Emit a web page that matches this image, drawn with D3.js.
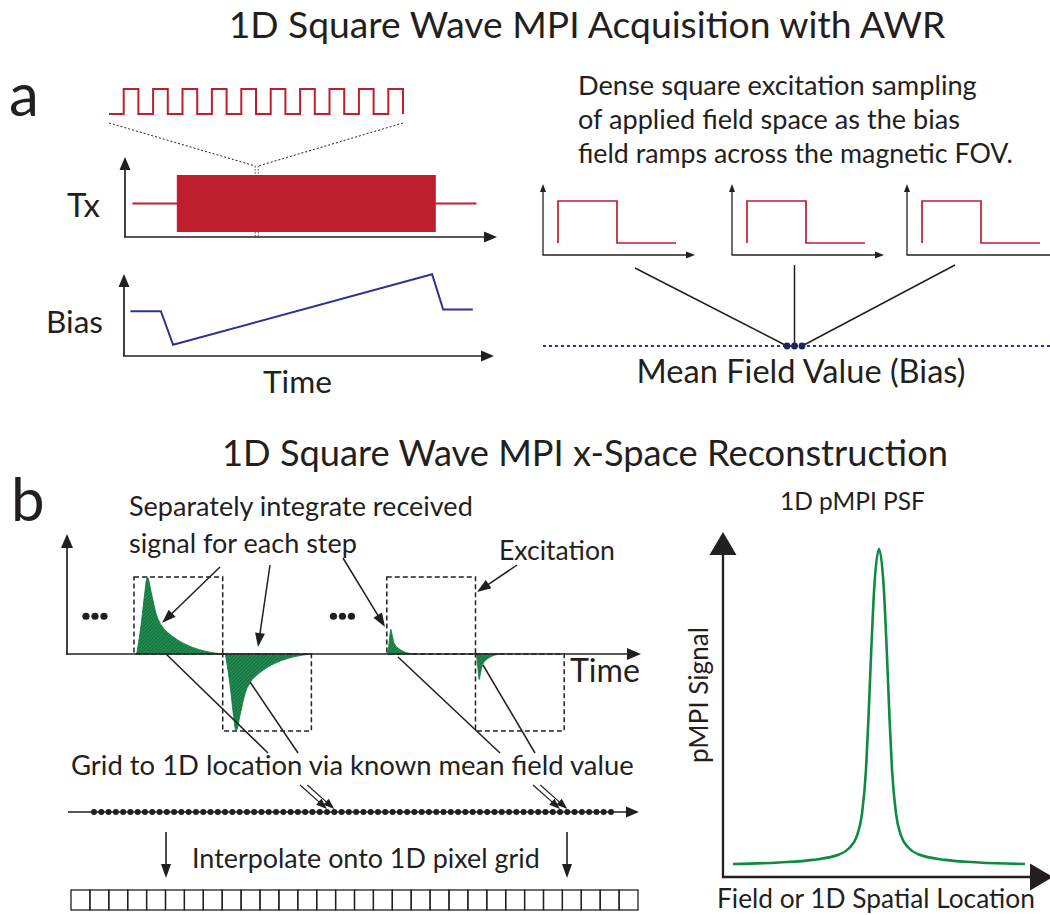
<!DOCTYPE html>
<html>
<head>
<meta charset="utf-8">
<script src="https://cdn.jsdelivr.net/npm/d3@7"></script>
<style>
  body { margin: 0; background: #fff; }
  text { font-family: Lato, "Open Sans", sans-serif; fill: #231f20; }
</style>
</head>
<body>
<div id="chart"></div>
<script>
// ---- data ----
var titles = ["1D Square Wave MPI Acquisition with AWR", "1D Square Wave MPI x-Space Reconstruction"];
var noteLines = ["Dense square excitation sampling", "of applied field space as the bias", "field ramps across the magnetic FOV."];
var stepNote = ["Separately integrate received", "signal for each step"];

// zoomed excitation, one level per half period
var exciteLevels = [0,1,0,1,0,1,0,1,0,1,0,1,0,1,0,1,0,1,0,1,0];
// Tx panel (time 0-100)
var txOn = [2, 95];
var txBurst = [14, 84];
var txDetail = 35.6;
// bias waveform
var biasTime  = [1.5, 9.7, 13, 83, 86, 94];
var biasLevel = [52, 52, 13, 95, 54, 54];

// one square step shown in each small panel
var stepShapeT = [0, 0, 1, 1, 2];
var stepShapeV = [0, 1, 1, 0, 0];
var meanField = [-1, 0, 1];

// received signal per excitation step
var stepStart = [0, 1, 2.85, 3.85];
var stepSign  = [1, -1, 1, -1];
var stepAmp   = [1, 1, 0.32, 0.33];
var stepSpan  = [1, 1, 0.3, 0.28];
var decayT = [0.03, 0.086, 0.12, 0.15, 0.198, 0.25, 0.31, 0.40, 0.51, 0.66, 0.81, 1.0];
var decayV = [0, 0.43, 0.78, 1.0, 0.78, 0.52, 0.37, 0.26, 0.17, 0.086, 0.034, 0];
var gapMarks = [-0.44, 2.35];

// gridding
var gridCount = 72;
var gridHits = [32, 33, 64, 65];
var pixelCount = 30;

// PSF
var psfOffset = [-146,-100,-66,-40,-30,-22,-17,-13,-10.7,-8,-4.7,0,4.7,8,10.7,13,17,22,30,40,66,100,146];
var psfValue  = [0,0.005,0.013,0.03,0.05,0.09,0.16,0.3,0.45,0.66,0.88,1,0.88,0.66,0.45,0.3,0.16,0.09,0.05,0.03,0.013,0.005,0];

var ink = "#231f20", red = "#be1e2d", navy = "#2e3192", green = "#0f8a42";

var svg = d3.select("#chart").append("svg")
    .attr("width", 1050)
    .attr("height", 915);

var defs = svg.append("defs");
var pat = defs.append("pattern")
    .attr("id", "hatch")
    .attr("patternUnits", "userSpaceOnUse")
    .attr("width", 2.5).attr("height", 2.5)
    .attr("patternTransform", "rotate(45)");
pat.append("rect").attr("width", 2.5).attr("height", 2.5).attr("fill", "#117a40");
pat.append("line").attr("x1", 0.4).attr("y1", 0).attr("x2", 0.4).attr("y2", 2.5)
    .attr("stroke", "#4f9e6f").attr("stroke-width", 0.5);

function label(g, str, x, y, w, anchor, rot) {
  var t = g.append("text").attr("x", x).attr("y", y).attr("font-size", 30).text(str);
  if (anchor) t.attr("text-anchor", anchor);
  if (rot) t.attr("transform", "rotate(-90," + x + "," + y + ")");
  if (w) {
    var len = t.node().getComputedTextLength();
    t.attr("font-size", 30 * w / len);
  }
  return t;
}

function arrow(g, x1, y1, x2, y2, len, wid, sw) {
  var dx = x2 - x1, dy = y2 - y1, d = Math.sqrt(dx * dx + dy * dy),
      ux = dx / d, uy = dy / d,
      bx = x2 - ux * len, by = y2 - uy * len;
  g.append("line")
    .attr("x1", x1).attr("y1", y1)
    .attr("x2", x2 - ux * len * 0.6).attr("y2", y2 - uy * len * 0.6)
    .attr("stroke", ink).attr("stroke-width", sw || 1.5);
  g.append("path")
    .attr("d", "M" + x2 + "," + y2 +
               "L" + (bx - uy * wid / 2) + "," + (by + ux * wid / 2) +
               "L" + (bx + uy * wid / 2) + "," + (by - ux * wid / 2) + "Z")
    .attr("fill", ink);
}

function seg(g, x1, y1, x2, y2, sw, dash) {
  var l = g.append("line").attr("x1", x1).attr("y1", y1).attr("x2", x2).attr("y2", y2)
    .attr("stroke", ink).attr("stroke-width", sw || 1.3);
  if (dash) l.attr("stroke-dasharray", dash);
  return l;
}

// ================= panel a =================
var a = svg.append("g");
label(a, titles[0], 587, 38, 717, "middle");
a.append("text").attr("x", 9).attr("y", 116).attr("font-size", 60).text("a");

// zoomed square wave
var exX = d3.scaleLinear().domain([0, 20]).range([109, 403]);
var exY = d3.scaleLinear().domain([0, 1]).range([114, 89]);
a.append("path")
  .datum(exciteLevels)
  .attr("d", d3.line().curve(d3.curveStepAfter)
      .x(function(d, i) { return exX(i); })
      .y(function(d) { return exY(d); }))
  .attr("fill", "none").attr("stroke", red).attr("stroke-width", 2);

// Tx panel
var tX = d3.scaleLinear().domain([0, 100]).range([125, 495]);
var txY = d3.scaleLinear().domain([-1, 1]).range([232, 175]);
seg(a, exX(0), 123, tX(txDetail) - 1.5, 166, 1, "2,2");
seg(a, exX(20), 123, tX(txDetail) + 1.5, 166, 1, "2,2");
[-1.5, 1.5].forEach(function(o) {
  seg(a, tX(txDetail) + o, 166, tX(txDetail) + o, 175, 0.8, "1.5,1.5");
  seg(a, tX(txDetail) + o, 232, tX(txDetail) + o, 237, 0.8, "1.5,1.5");
});
a.append("line")
  .attr("x1", tX(txOn[0])).attr("x2", tX(txOn[1]))
  .attr("y1", txY(0)).attr("y2", txY(0))
  .attr("stroke", red).attr("stroke-width", 1.9);
a.append("rect")
  .attr("x", tX(txBurst[0])).attr("width", tX(txBurst[1]) - tX(txBurst[0]))
  .attr("y", txY(1)).attr("height", txY(-1) - txY(1))
  .attr("fill", red);
arrow(a, 125, 237, 125, 157, 13, 11, 1.7);
arrow(a, 124, 237, 497, 237, 13, 11, 1.7);
label(a, "Tx", 67, 217, 33);

// bias panel
var bY = d3.scaleLinear().domain([0, 100]).range([356, 270]);
a.append("path")
  .datum(d3.zip(biasTime, biasLevel))
  .attr("d", d3.line()
      .x(function(d) { return tX(d[0]); })
      .y(function(d) { return bY(d[1]); }))
  .attr("fill", "none").attr("stroke", navy).attr("stroke-width", 2);
arrow(a, 124, 356, 124, 274, 13, 11, 1.7);
arrow(a, 123, 356, 494, 356, 13, 11, 1.7);
label(a, "Bias", 46, 333, 57);
label(a, "Time", 263, 393, 69);

// right: dense sampling note
noteLines.forEach(function(s, i) {
  label(a, s, 578, 95 + i * 34, [399, 382, 435][i]);
});

// small excitation panels
var mfX = d3.scaleLinear().domain([-1, 1]).range([787, 802]);
var panelX = [543, 732, 907];
panelX.forEach(function(x0, i) {
  var px = d3.scaleLinear().domain([0, 2]).range([x0 + 15, x0 + 133]);
  var py = d3.scaleLinear().domain([0, 1]).range([243, 201]);
  a.append("path")
    .datum(d3.zip(stepShapeT, stepShapeV))
    .attr("d", d3.line().x(function(d) { return px(d[0]); }).y(function(d) { return py(d[1]); }))
    .attr("fill", "none").attr("stroke", red).attr("stroke-width", 1.7);
  arrow(a, x0, 255, x0, 184, 8, 6, 1.3);
  if (i < 2) arrow(a, x0 - 0.5, 255, x0 + 152, 255, 9, 7, 1.3);
  else seg(a, x0 - 0.5, 255, 1050, 255, 1.3);
});
seg(a, 635, 268, mfX(-1), 346, 1.5);
seg(a, mfX(0), 265, mfX(0), 346, 1.5);
seg(a, 955, 265, mfX(1), 346, 1.5);
a.append("line")
  .attr("x1", 543).attr("x2", 1050).attr("y1", 346).attr("y2", 346)
  .attr("stroke", navy).attr("stroke-width", 1.8).attr("stroke-dasharray", "3,3");
a.selectAll(".mf").data(meanField).enter().append("circle")
  .attr("cx", function(d) { return mfX(d); }).attr("cy", 346).attr("r", 3.4)
  .attr("fill", "#1f2456");
label(a, "Mean Field Value (Bias)", 801, 383, 329, "middle");

// ================= panel b =================
var b = svg.append("g");
label(b, titles[1], 585, 466, 726, "middle");
b.append("text").attr("x", 11).attr("y", 521).attr("font-size", 60).text("b");
label(b, stepNote[0], 129, 516, 344);
label(b, stepNote[1], 129, 553, 228);

var sX = d3.scaleLinear().domain([0, 1]).range([134, 222.7]);
var sY = d3.scaleLinear().domain([-1, 1]).range([731, 577]);

// excitation boxes
stepStart.forEach(function(t0, k) {
  var y0 = sY(0), y1 = sY(stepSign[k]);
  b.append("rect")
    .attr("x", sX(t0)).attr("width", sX(t0 + 1) - sX(t0))
    .attr("y", Math.min(y0, y1)).attr("height", Math.abs(y1 - y0))
    .attr("fill", "none").attr("stroke", ink).attr("stroke-width", 1.5)
    .attr("stroke-dasharray", "5,3");
});

// received signal
var area = d3.area().curve(d3.curveMonotoneX);
stepStart.forEach(function(t0, k) {
  var pts = decayT.map(function(t, j) {
    return [sX(t0 + t * stepSpan[k]), sY(stepSign[k] * stepAmp[k] * decayV[j])];
  });
  b.append("path")
    .datum(pts)
    .attr("d", area.x(function(d) { return d[0]; }).y0(sY(0)).y1(function(d) { return d[1]; }))
    .attr("fill", "url(#hatch)").attr("stroke", "#117a40").attr("stroke-width", 0.9);
});

// signal axes
arrow(b, 67, 655, 67, 534, 14, 12, 1.7);
arrow(b, 66, 654, 641, 654, 14, 12, 1.7);
gapMarks.forEach(function(t) {
  [-9, 0, 9].forEach(function(o) {
    b.append("circle").attr("cx", sX(t) + o).attr("cy", sY(0.49)).attr("r", 3.6).attr("fill", ink);
  });
});
label(b, "Time", 570, 682, 70);
label(b, "Excitation", 499, 560, 116);

// annotation arrows
arrow(b, 220, 567, 162, 623, 14, 10, 1.5);
arrow(b, 270, 565, 258, 647, 14, 10, 1.5);
arrow(b, 343, 558, 385, 627, 14, 10, 1.5);
arrow(b, 517, 565, 477, 592, 14, 10, 1.5);

// connectors from each step to its grid location
seg(b, 165, 653, 268, 753, 1.5);
seg(b, 250, 682, 298, 753, 1.5);
seg(b, 398, 657, 500, 753, 1.5);
seg(b, 483, 665, 535, 753, 1.5);
label(b, "Grid to 1D location via known mean field value", 71, 775, 563);

// 1D location axis
var gX = d3.scaleLinear().domain([0, gridCount - 1]).range([94, 611]);
arrow(b, 68, 812, 639, 812, 13, 11, 1.6);
b.selectAll(".gd").data(d3.range(gridCount)).enter().append("circle")
  .attr("cx", function(d) { return gX(d); }).attr("cy", 812).attr("r", 3)
  .attr("fill", ink);
gridHits.forEach(function(i) {
  arrow(b, gX(i) - 27, 785, gX(i), 809, 11, 8, 1.2);
});

// interpolation
arrow(b, 166, 832, 166, 878, 14, 10, 1.6);
arrow(b, 567, 832, 567, 878, 14, 10, 1.6);
label(b, "Interpolate onto 1D pixel grid", 192, 868, 348);
var pX = d3.scaleLinear().domain([0, pixelCount]).range([71, 638]);
b.selectAll(".px").data(d3.range(pixelCount)).enter().append("rect")
  .attr("x", function(d) { return pX(d); }).attr("y", 890)
  .attr("width", pX(1) - pX(0)).attr("height", 20)
  .attr("fill", "none").attr("stroke", ink).attr("stroke-width", 1.3);

// PSF
var fX = d3.scaleLinear().domain([-146, 146]).range([733, 1025]);
var fY = d3.scaleLinear().domain([0, 1]).range([864, 549]);
label(b, "1D pMPI PSF", 780, 510, 145);
b.append("path")
  .datum(d3.zip(psfOffset, psfValue))
  .attr("d", d3.line().curve(d3.curveMonotoneX)
      .x(function(d) { return fX(d[0]); })
      .y(function(d) { return fY(d[1]); }))
  .attr("fill", "none").attr("stroke", green).attr("stroke-width", 2.6);
arrow(b, 723, 878, 723, 532, 23, 27, 2.3);
arrow(b, 722, 877, 1053, 877, 23, 27, 2.3);
label(b, "pMPI Signal", 708, 695, 136, "middle", true);
label(b, "Field or 1D Spatial Location", 717, 908, 318);
</script>
</body>
</html>
